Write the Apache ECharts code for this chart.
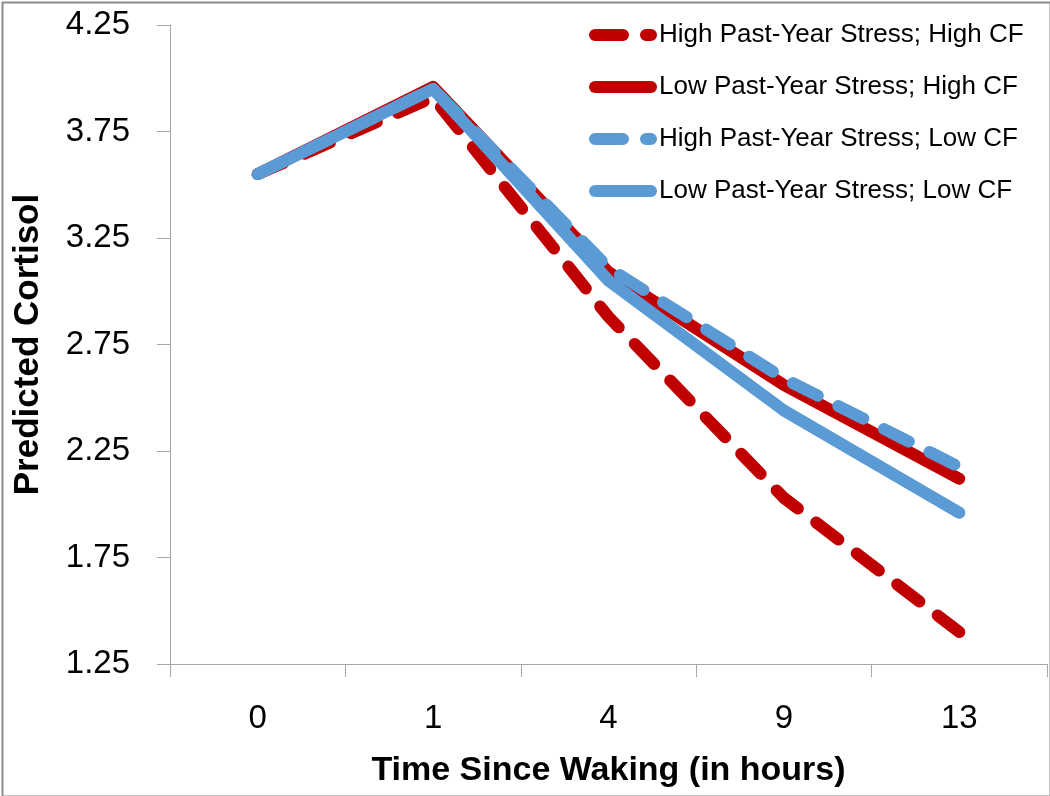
<!DOCTYPE html>
<html>
<head>
<meta charset="utf-8">
<script src="https://cdn.jsdelivr.net/npm/echarts@6/dist/echarts.min.js"></script>
<style>
html,body{margin:0;padding:0;background:#fff;}
#chart{width:1050px;height:796px;}
</style>
</head>
<body>
<div id="chart"></div>
<script>
// ---- data ----
const categories = ['0', '1', '4', '9', '13'];
const seriesNames = [
  'High Past-Year Stress; High CF',
  'Low Past-Year Stress; High CF',
  'High Past-Year Stress; Low CF',
  'Low Past-Year Stress; Low CF'
];
const highStressHighCF = [3.55, 3.91, 2.88, 2.03, 1.40];
const lowStressHighCF  = [3.55, 3.96, 3.09, 2.56, 2.12];
const highStressLowCF  = [3.55, 3.95, 3.11, 2.59, 2.175];
const lowStressLowCF   = [3.55, 3.95, 3.05, 2.44, 1.96];
const yMin = 1.25, yMax = 4.25, yStep = 0.5;

const RED = '#C00000', BLUE = '#5B9BD5';
const FONT = 'Liberation Sans';
const DASH = [28, 23];

function mkSeries(name, data, color, dashed) {
  return {
    name: name, type: 'line', data: data, symbol: 'none',
    lineStyle: { color: color, width: 12, type: dashed ? DASH : 'solid', cap: 'round', join: 'round' },
    itemStyle: { color: color },
    emphasis: { disabled: true },
    animation: false
  };
}

const chart = echarts.init(document.getElementById('chart'), null, { renderer: 'canvas' });
chart.setOption({
  backgroundColor: '#fff',
  animation: false,
  grid: { left: 170, right: 3, top: 25, bottom: 132, containLabel: false },
  legend: {
    orient: 'vertical', left: 589, top: 22, padding: 0,
    itemWidth: 56, itemHeight: 12, itemGap: 26,
    lineStyle: { width: 12, cap: 'round' },
    itemStyle: { opacity: 0 },
    textStyle: { fontFamily: FONT, fontSize: 26, color: '#000', padding: [0, 0, 0, 3] },
    data: seriesNames
  },
  xAxis: {
    type: 'category', data: categories, boundaryGap: true,
    name: 'Time Since Waking (in hours)', nameLocation: 'middle', nameGap: 90,
    nameTextStyle: { fontFamily: FONT, fontSize: 34, fontWeight: 'bold', color: '#000' },
    axisLine: { lineStyle: { color: '#a6a6a6', width: 1 } },
    axisTick: { show: true, length: 13, alignWithLabel: false, lineStyle: { color: '#a6a6a6' } },
    axisLabel: { fontFamily: FONT, fontSize: 33, color: '#000', margin: 38 },
    splitLine: { show: false }
  },
  yAxis: {
    type: 'value', min: yMin, max: yMax, interval: yStep,
    name: 'Predicted Cortisol', nameLocation: 'middle', nameRotate: 90, nameGap: 124,
    nameTextStyle: { fontFamily: FONT, fontSize: 35, fontWeight: 'bold', color: '#000' },
    axisLine: { show: true, lineStyle: { color: '#a6a6a6', width: 1 } },
    axisTick: { show: true, length: 13, lineStyle: { color: '#a6a6a6' } },
    axisLabel: { fontFamily: FONT, fontSize: 33, color: '#000', margin: 40,
      formatter: function (v) { return v.toFixed(2); } },
    splitLine: { show: false }
  },
  series: [
    mkSeries(seriesNames[0], highStressHighCF, RED, true),
    mkSeries(seriesNames[1], lowStressHighCF, RED, false),
    mkSeries(seriesNames[2], highStressLowCF, BLUE, true),
    mkSeries(seriesNames[3], lowStressLowCF, BLUE, false)
  ],
  graphic: [{
    type: 'rect', left: 0, top: 0, silent: true, z: 100,
    shape: { x: 1, y: 1, width: 1048, height: 794 },
    style: { fill: 'none', stroke: '#8c8c8c', lineWidth: 2 }
  }]
});
</script>
</body>
</html>
